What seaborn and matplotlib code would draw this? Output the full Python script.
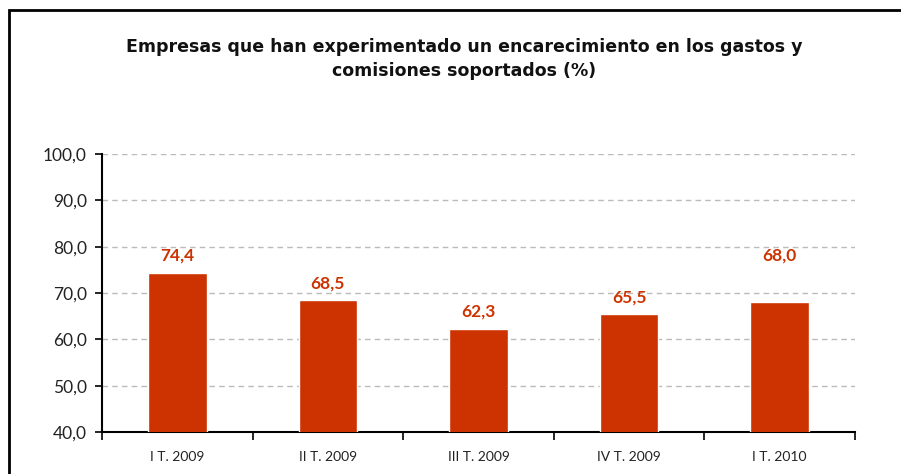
import numpy as np
import pandas as pd
import seaborn as sns
import matplotlib.pyplot as plt
from matplotlib.patches import Rectangle

# data
quarters = ['I T. 2009', 'II T. 2009', 'III T. 2009', 'IV T. 2009', 'I T. 2010']
values = [74.4, 68.5, 62.3, 65.5, 68.0]
label_offsets = [12, 12, 12, 12, 34]  # points above the bar top

bar_color = '#CC3300'

sns.set_theme(style='white')
plt.rcParams['font.family'] = ['Lato', 'DejaVu Sans']

df = pd.DataFrame({'quarter': quarters, 'value': values})

fig = plt.figure(figsize=(9.01, 4.74), dpi=100)
ax = fig.add_axes([102 / 901, 1 - 432 / 474, (855 - 102) / 901, (432 - 154) / 474])

sns.barplot(data=df, x='quarter', y='value', color=bar_color, saturation=1,
            width=0.39, ax=ax, zorder=3)

ax.set_ylim(40, 100)
ax.set_xlim(-0.5, len(quarters) - 0.5)
ax.set_yticks(np.arange(40, 101, 10))
ax.set_yticklabels([f'{v:.1f}'.replace('.', ',') for v in np.arange(40, 101, 10)],
                   fontsize=12.5, color='#222222')
ax.set_xticklabels(quarters, fontsize=10, color='#222222')
ax.set_xlabel('')
ax.set_ylabel('')

# grid
ax.yaxis.grid(True, linestyle=(0, (4, 3)), color='#BBBBBB', linewidth=1, zorder=0)
ax.set_axisbelow(True)

# spines and ticks
for s in ['top', 'right']:
    ax.spines[s].set_visible(False)
for s in ['left', 'bottom']:
    ax.spines[s].set_color('black')
    ax.spines[s].set_linewidth(1.5)
ax.tick_params(axis='y', which='major', length=5, width=1.2, color='black',
               left=True, pad=6)
ax.tick_params(axis='x', which='major', length=0, pad=14)
ax.set_xticks(np.arange(-0.5, len(quarters), 1), minor=True)
ax.tick_params(axis='x', which='minor', length=6, width=1.2, color='black', bottom=True)

# value labels
for i, (v, off) in enumerate(zip(values, label_offsets)):
    ax.annotate(f'{v:.1f}'.replace('.', ','), xy=(i, v), xytext=(0, off),
                textcoords='offset points', ha='center', va='center',
                fontsize=12.5, fontweight='bold', color=bar_color)

fig.text(464 / 901, 1 - 59 / 474,
         'Empresas que han experimentado un encarecimiento en los gastos y\ncomisiones soportados (%)',
         ha='center', va='center', fontsize=12.5, fontweight='bold',
         family='DejaVu Sans', color='#111111', linespacing=1.45)

# outer frame
fig.patches.append(Rectangle((9 / 901, -0.1), 1.1, 1.1 - 10 / 474,
                             transform=fig.transFigure, fill=False,
                             edgecolor='black', linewidth=2))

fig.savefig('out.png', dpi=100)
